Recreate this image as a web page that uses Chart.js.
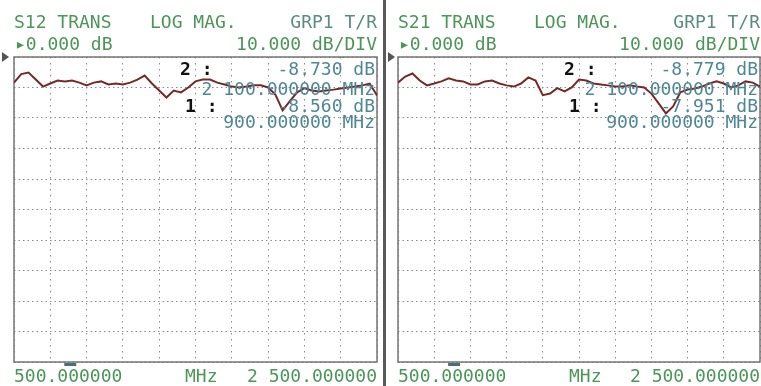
<!DOCTYPE html>
<html>
<head>
<meta charset="utf-8">
<script src="https://cdn.jsdelivr.net/npm/chart.js@4/dist/chart.umd.min.js"></script>
<style>
  html, body { margin: 0; padding: 0; background: #fff; }
  #screen { position: relative; width: 761px; height: 386px; overflow: hidden; background: #fff; }
  canvas { position: absolute; top: 0; }
  .t { position: absolute; font-family: "DejaVu Sans Mono", monospace; font-size: 18px; line-height: 18px; white-space: pre; }
  .g { color: #4b9658; }
  .gt { color: #5a8c80; }
  .m { color: #4f8796; }
  .k { color: #111; font-weight: bold; }
  .divider { position: absolute; left: 383px; top: 0; width: 3px; height: 386px; background: #5a5a5a; }
  .arrow { position: absolute; width: 0; height: 0; border-top: 5px solid transparent; border-bottom: 5px solid transparent; border-left: 7px solid #555; }
</style>
</head>
<body>
<div id="screen">
  <canvas id="s12" width="384" height="386" style="left:0"></canvas>
  <canvas id="s21" width="375" height="386" style="left:386px"></canvas>
  <div class="divider"></div>
  <div class="arrow" style="left:2px; top:52px"></div>
  <div class="arrow" style="left:388px; top:52px"></div>
</div>
<script>
// stimulus axis, MHz (200 MHz / div)
const startMHz = 500;
const stopMHz = 2500;
const freqStep = 200;
// response axis, dB (reference 0 dB at top, 10 dB / div)
const refLevel = 0;
const dbPerDiv = 10;
const numDivs = 10;

const freqMHz = [500, 540, 580, 620, 660, 700, 740, 780, 820, 860,
  900, 940, 980, 1020, 1060, 1100, 1140, 1180, 1220, 1260,
  1300, 1340, 1380, 1420, 1460, 1500, 1540, 1580, 1620, 1660,
  1700, 1740, 1780, 1820, 1860, 1900, 1940, 1980, 2020, 2060,
  2100, 2140, 2180, 2220, 2260, 2300, 2340, 2380, 2420, 2460, 2500];

const s12dB = [-8.4, -5.6, -5.1, -7.4, -9.7, -8.7, -7.7, -8.0, -7.7, -8.4,
  -9.3, -8.4, -8.0, -9.0, -8.7, -9.0, -8.4, -7.4, -6.1, -8.7,
  -11.0, -13.3, -11.0, -11.6, -10.0, -8.0, -7.4, -7.4, -8.4, -9.0,
  -9.7, -10.0, -9.7, -9.3, -9.3, -10.0, -12.3, -17.5, -14.5, -11.6,
  -10.2, -11.0, -11.3, -11.0, -10.7, -10.3, -10.0, -9.7, -9.3, -8.7, -12.6];

const s21dB = [-8.4, -6.4, -5.4, -7.7, -9.3, -8.7, -8.0, -7.0, -7.7, -8.0,
  -9.0, -9.0, -8.0, -7.7, -8.7, -9.3, -9.7, -8.7, -6.7, -7.7,
  -12.5, -12.0, -10.2, -11.3, -10.0, -7.4, -7.7, -8.7, -9.0, -9.3,
  -9.7, -9.7, -9.3, -9.7, -10.0, -12.0, -15.2, -18.5, -16.2, -11.6,
  -10.7, -10.3, -9.7, -8.7, -8.0, -8.7, -10.0, -9.3, -8.0, -8.4, -9.7];

const markerBarMHz = 810;

const panels = [
  { id: 's12', x0: 0, w: 384, values: s12dB, pad: { left: 14, right: 7, top: 57, bottom: 24 },
    head: ['S12 TRANS', 'LOG MAG.', 'GRP1 T/R'], ref: '\u25B80.000 dB', scale: '10.000 dB/DIV',
    m2: ['-8.730 dB', '2 100.000000 MHz'], m1: ['-8.560 dB', '900.000000 MHz'] },
  { id: 's21', x0: 386, w: 375, values: s21dB, pad: { left: 12, right: 1, top: 57, bottom: 24 },
    head: ['S21 TRANS', 'LOG MAG.', 'GRP1 T/R'], ref: '\u25B80.000 dB', scale: '10.000 dB/DIV',
    m2: ['-8.779 dB', '2 100.000000 MHz'], m1: ['-7.951 dB', '900.000000 MHz'] }
];

const framePlugin = {
  id: 'frame',
  beforeDatasetsDraw(chart) {
    const { ctx, chartArea: a } = chart;
    ctx.save();
    ctx.strokeStyle = '#747474';
    ctx.lineWidth = 1.5;
    ctx.strokeRect(a.left, a.top, a.right - a.left, a.bottom - a.top);
    const bx = chart.scales.x.getPixelForValue(markerBarMHz);
    ctx.fillStyle = '#46707a';
    ctx.fillRect(bx - 6, a.bottom + 1, 12, 3);
    ctx.restore();
  }
};

const screen = document.getElementById('screen');
function addText(txt, cls, left, top, right) {
  const d = document.createElement('div');
  d.className = 't ' + cls;
  d.textContent = txt;
  d.style.top = top + 'px';
  if (right !== undefined) d.style.right = right + 'px';
  else d.style.left = left + 'px';
  screen.appendChild(d);
}

panels.forEach(p => {
  new Chart(document.getElementById(p.id).getContext('2d'), {
    type: 'line',
    data: {
      datasets: [{
        data: freqMHz.map((f, i) => ({ x: f, y: p.values[i] })),
        borderColor: 'rgb(118, 42, 38)',
        borderWidth: 2,
        pointRadius: 0,
        tension: 0
      }]
    },
    options: {
      responsive: false,
      animation: false,
      events: [],
      layout: { padding: p.pad },
      plugins: { legend: { display: false }, tooltip: { enabled: false } },
      scales: {
        x: {
          type: 'linear', min: startMHz, max: stopMHz,
          ticks: { display: false, stepSize: freqStep },
          grid: { color: '#8a8a8a', lineWidth: 1, drawTicks: false },
          border: { display: false, dash: [1.5, 4.5] }
        },
        y: {
          min: refLevel - dbPerDiv * numDivs, max: refLevel,
          ticks: { display: false, stepSize: dbPerDiv },
          grid: { color: '#8a8a8a', lineWidth: 1, drawTicks: false },
          border: { display: false, dash: [1.5, 3] }
        }
      }
    },
    plugins: [framePlugin]
  });

  const L = p.x0 + p.pad.left;
  const R = 761 - (p.x0 + p.w - p.pad.right);
  addText(p.head[0], 'g', L, 13);
  addText(p.head[1], 'g', L + 136, 13);
  addText(p.head[2], 'gt', 0, 13, R);
  addText(p.ref, 'g', L + 1, 35);
  addText(p.scale, 'g', 0, 35, R);
  addText('2 :', 'k', L + 166, 60);
  addText(p.m2[0], 'm', 0, 60, R + 2);
  addText(p.m2[1], 'm', 0, 80, R + 2);
  addText('1 :', 'k', L + 171, 97);
  addText(p.m1[0], 'm', 0, 97, R + 2);
  addText(p.m1[1], 'm', 0, 113, R + 2);
  addText(startMHz.toFixed(6), 'g', L, 367);
  addText('MHz', 'g', L + 171, 367);
  addText('2 500.000000', 'g', 0, 367, R);
});
</script>
</body>
</html>
